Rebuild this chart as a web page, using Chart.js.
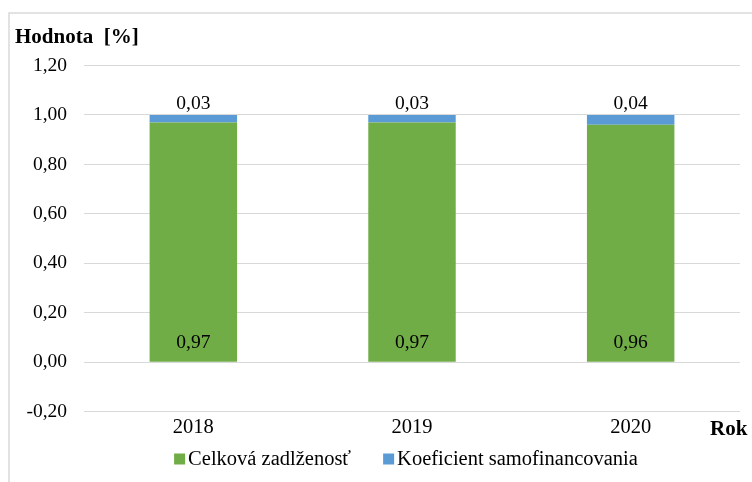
<!DOCTYPE html>
<html>
<head>
<meta charset="utf-8">
<script src="https://cdn.jsdelivr.net/npm/chart.js@4"></script>
<style>
html,body{margin:0;padding:0;background:#fff;}
#wrap{width:752px;height:482px;position:relative;}
</style>
</head>
<body>
<div id="wrap"><canvas id="c" width="752" height="482"></canvas></div>
<script>
const categories = ['2018', '2019', '2020'];
const seriesNames = ['Celková zadlženosť', 'Koeficient samofinancovania'];
const totalDebt = [0.97, 0.97, 0.96];
const selfFinancing = [0.03, 0.03, 0.04];
const yTicks = [-0.2, 0, 0.2, 0.4, 0.6, 0.8, 1.0, 1.2];
const yTitle = 'Hodnota  [%]';
const xTitle = 'Rok';

const colors = ['#70AD47', '#5B9BD5'];
const serif = '"Liberation Serif", "Times New Roman", serif';

function fmt(v) { return v.toFixed(2).replace('.', ','); }

const decor = {
  id: 'decor',
  beforeDraw(chart) {
    const ctx = chart.ctx;
    ctx.save();
    ctx.fillStyle = '#fff';
    ctx.fillRect(0, 0, chart.width, chart.height);
    ctx.strokeStyle = '#d9d9d9';
    ctx.lineWidth = 1.5;
    ctx.strokeRect(9, 13, 800, 600);
    ctx.restore();
  },
  afterDatasetsDraw(chart) {
    const ctx = chart.ctx;
    ctx.save();
    ctx.fillStyle = '#000';
    ctx.font = '19.5px ' + serif;
    ctx.textAlign = 'center';
    ctx.textBaseline = 'middle';
    const m0 = chart.getDatasetMeta(0);
    const m1 = chart.getDatasetMeta(1);
    m0.data.forEach((el, i) => {
      ctx.fillText(fmt(chart.data.datasets[0].data[i]), el.x, el.base - 19);
    });
    m1.data.forEach((el, i) => {
      ctx.fillText(fmt(chart.data.datasets[1].data[i]), el.x, el.y - 11);
    });
    ctx.restore();
  },
  afterDraw(chart) {
    const ctx = chart.ctx;
    ctx.save();
    ctx.fillStyle = '#000';
    // axis titles
    ctx.font = 'bold 21px ' + serif;
    ctx.textAlign = 'left';
    ctx.textBaseline = 'alphabetic';
    ctx.fillText(yTitle, 15, 43);
    ctx.fillText(xTitle, 710, 435);
    // legend
    ctx.font = '20.5px ' + serif;
    const box = 11, gapText = 3, gapItem = 32;
    const ds = chart.data.datasets;
    const widths = ds.map(d => ctx.measureText(d.label).width);
    let total = 0;
    widths.forEach((w, i) => { total += box + gapText + w + (i < widths.length - 1 ? gapItem : 0); });
    let x = 406 - total / 2;
    const cy = 459;
    ds.forEach((d, i) => {
      ctx.fillStyle = d.backgroundColor;
      ctx.fillRect(x, cy - box / 2, box, box);
      ctx.fillStyle = '#000';
      ctx.textBaseline = 'middle';
      ctx.fillText(d.label, x + box + gapText, cy + 1);
      x += box + gapText + widths[i] + gapItem;
    });
    ctx.restore();
  }
};

new Chart(document.getElementById('c'), {
  type: 'bar',
  data: {
    labels: categories,
    datasets: [
      { label: seriesNames[0], data: totalDebt, backgroundColor: colors[0], borderWidth: 0 },
      { label: seriesNames[1], data: selfFinancing, backgroundColor: colors[1], borderWidth: 0 }
    ]
  },
  options: {
    responsive: false,
    animation: false,
    devicePixelRatio: 1,
    layout: { padding: { left: 0, right: 12, top: 65.5, bottom: 0 } },
    plugins: { legend: { display: false }, tooltip: { enabled: false }, title: { display: false } },
    datasets: { bar: { barPercentage: 0.4, categoryPercentage: 1.0 } },
    scales: {
      x: {
        stacked: true,
        grid: { display: false, drawTicks: false },
        border: { display: false },
        ticks: { color: '#000', font: { family: serif, size: 20.5 }, padding: 4 },
        afterFit(s) { s.height = 70.3; }
      },
      y: {
        stacked: true,
        min: yTicks[0],
        max: yTicks[yTicks.length - 1],
        afterBuildTicks(s) { s.ticks = yTicks.map(v => ({ value: v })); },
        grid: { color: '#d9d9d9', lineWidth: 1, drawTicks: false },
        border: { display: false },
        ticks: { color: '#000', font: { family: serif, size: 19.5 }, padding: 17, callback: v => fmt(v) },
        afterFit(s) { s.width = 84; }
      }
    }
  },
  plugins: [decor]
});
</script>
</body>
</html>
